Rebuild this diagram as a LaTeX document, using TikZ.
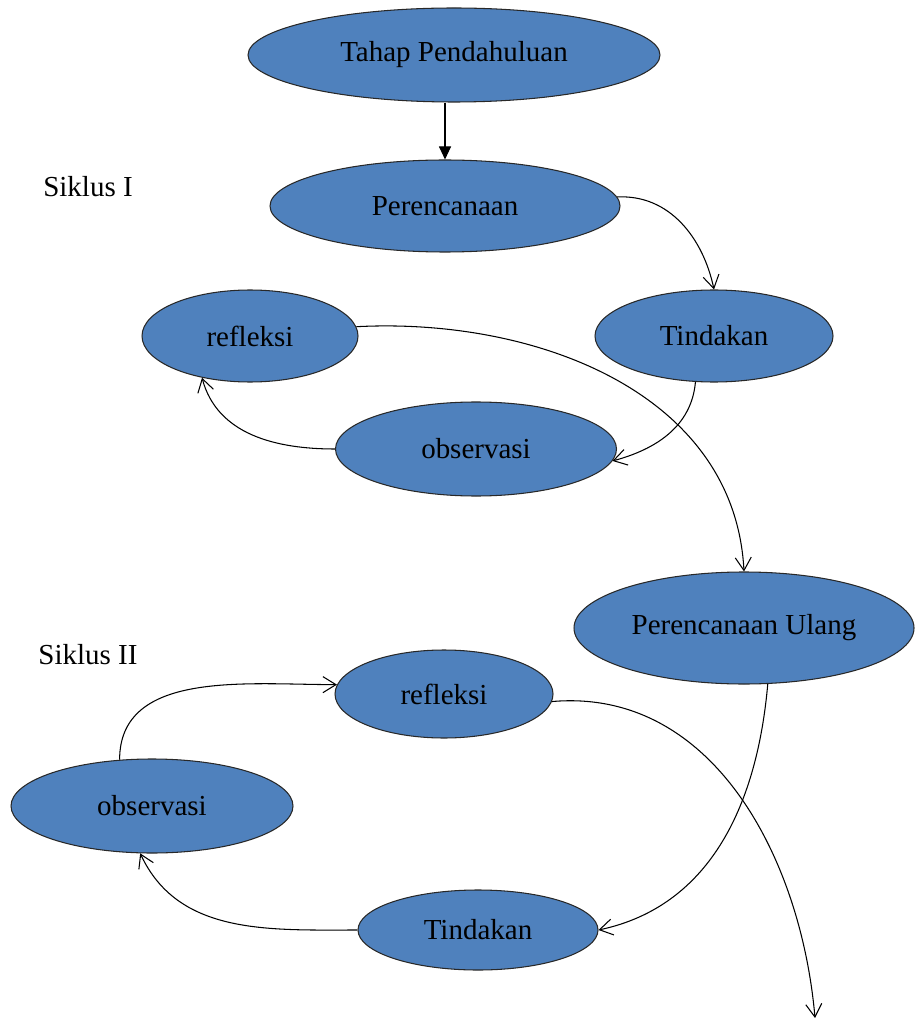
\documentclass[tikz,border=0pt]{standalone}
\usepackage{fontspec}
\setmainfont{Liberation Serif}
\usepackage{tikz}
\usetikzlibrary{shapes.geometric, arrows.meta}
\definecolor{StageBlue}{RGB}{79,129,189}
\definecolor{StageEdge}{RGB}{40,40,40}

\tikzset{
  stage/.style={ellipse, draw=StageEdge, fill=StageBlue, line width=0.6pt, inner sep=0pt,
    font=\fontsize{16.5}{20}\selectfont},
  flow/.style={-{Straight Barb[length=2.6mm, width=3.2mm]}, line width=0.6pt},
  label/.style={font=\fontsize{16.5}{20}\selectfont}
}

\begin{document}
\begin{tikzpicture}
          \useasboundingbox (0,0) rectangle (18.28,-20.36);
          % cycle I
          \node[stage, minimum width=8.24cm, minimum height=1.88cm] (tahap) at (9.08,-1.10) {Tahap Pendahuluan};
          \node[stage, minimum width=7.00cm, minimum height=1.84cm] (peren) at (8.90,-4.12) {Perencanaan};
          \node[stage, minimum width=4.76cm, minimum height=1.84cm] (tind1) at (14.28,-6.72) {Tindakan};
          \node[stage, minimum width=4.32cm, minimum height=1.84cm] (ref1) at (5.00,-6.72) {refleksi};
          \node[stage, minimum width=5.62cm, minimum height=1.88cm] (obs1) at (9.52,-8.98) {observasi};
          \node[label] (siklus1) at (1.76,-3.74) {Siklus I};
          % cycle II
          \node[stage, minimum width=6.80cm, minimum height=2.24cm] (ulang) at (14.88,-12.56) {Perencanaan Ulang};
          \node[stage, minimum width=4.36cm, minimum height=1.76cm] (ref2) at (8.88,-13.88) {refleksi};
          \node[stage, minimum width=5.64cm, minimum height=1.88cm] (obs2) at (3.04,-16.12) {observasi};
          \node[stage, minimum width=4.80cm, minimum height=1.60cm] (tind2) at (9.56,-18.60) {Tindakan};
          \node[label] (siklus2) at (1.76,-13.10) {Siklus II};
          \coordinate (ende) at (16.30,-20.36);

          \draw[-{Triangle[length=2.6mm, width=2.4mm]}, line width=0.6pt] (tahap.south -| peren.north) -- (peren.north);
          \draw[flow] (peren.3) to[out=3, in=102] (tind1.north);
          \draw[flow] (tind1.-112) to[out=-95, in=15] (obs1.-5);
          \draw[flow] (obs1.west) to[out=180, in=-75] (ref1.-139);
          \draw[flow] (ref1.5) to[out=3, in=93] (ulang.north);
          \draw[flow] (ulang.-67) to[out=-95, in=12] (tind2.east);
          \draw[flow] (tind2.west) to[out=180, in=-65] (obs2.-104);
          \draw[flow] (obs2.125) to[out=90, in=180] (ref2.175);
          \draw[flow] (ref2.-4) to[out=5, in=95] (ende);
        \end{tikzpicture}
\end{document}
